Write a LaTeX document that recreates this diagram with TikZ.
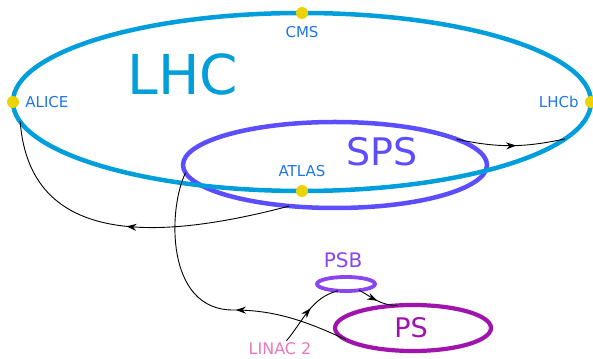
\documentclass[tikz,border=0pt]{standalone}
\usepackage{fontspec}
\setmainfont{DejaVu Sans}
\usetikzlibrary{shapes.geometric,arrows.meta,decorations.markings,positioning}

\definecolor{lhccol}{RGB}{0,158,218}
\definecolor{labcol}{RGB}{30,118,228}
\definecolor{spscol}{RGB}{92,78,255}
\definecolor{psbcol}{RGB}{138,68,240}
\definecolor{pscol}{RGB}{160,20,172}
\definecolor{linaccol}{RGB}{232,120,192}
\definecolor{dotcol}{RGB}{236,210,0}

\begin{document}
\begin{tikzpicture}[x=1pt,y=1pt,
    ring/.style={draw, ellipse, inner sep=0pt, outer sep=0pt},
    dot/.style={fill=dotcol, circle, inner sep=0pt, minimum size=12pt},
    lab/.style={text=labcol, inner sep=0pt, font=\fontsize{15}{15}\selectfont},
    beam/.style={black, line width=.9pt},
    midarrow/.style={postaction={decorate, decoration={markings,
        mark=at position #1 with {\arrow{Stealth[length=10pt,width=7pt]}}}}}]
  \useasboundingbox (0,0) rectangle (593,358);
  % rings
  \node (sps) at (335,193) [ring, draw=spscol, line width=4.5pt, minimum width=304pt, minimum height=86pt] {};
  \node (lhc) at (302,256) [ring, draw=lhccol, line width=4.5pt, minimum width=578pt, minimum height=178pt] {};
  \node (psb) at (346,74) [ring, draw=psbcol, line width=3.8pt, minimum width=58pt, minimum height=14pt] {};
  \node (ps) at (413,30) [ring, draw=pscol, line width=4.2pt, minimum width=156pt, minimum height=46pt] {};
  % names
  \node (lhcname) at (183,284) [text=lhccol, font=\fontsize{55}{55}\selectfont] {LHC};
  \node (spsname) at (382,206) [text=spscol, font=\fontsize{38}{38}\selectfont] {SPS};
  \node (psbname) at (343,98) [text=psbcol, font=\fontsize{20}{20}\selectfont] {PSB};
  \node (psname) at (411,30) [text=pscol, font=\fontsize{27}{27}\selectfont] {PS};
  \node (linac) at (280,9) [text=linaccol, inner sep=2pt, font=\fontsize{16}{16}\selectfont] {LINAC 2};
  % transfer lines
  \draw[beam, midarrow=0.55] (sps.12) to[out=-12, in=192] (lhc.352);
  \draw[beam, midarrow=0.5] (sps.222) .. controls (160,118) and (30,110) .. (lhc.184);
  \draw[beam, midarrow=0.4] (ps.190) .. controls (300,40) and (270,48) .. (233,48)
      .. controls (165,48) and (168,150) .. (sps.183);
  \draw[beam, midarrow=0.55] (linac.52) to[out=50, in=195] (psb.220);
  \draw[beam, midarrow=0.5] (psb.335) to[out=-30, in=180] (ps.125);
  % experiments
  \node (alice) at (lhc.west) [dot] {};
  \node (cms) at (lhc.north) [dot] {};
  \node (lhcb) at (lhc.east) [dot] {};
  \node (atlas) at (lhc.south) [dot] {};
  \node [lab, right=6pt of alice] {ALICE};
  \node [lab, below=7pt of cms] {CMS};
  \node [lab, left=6pt of lhcb] {LHCb};
  \node [lab, above=8pt of atlas] {ATLAS};
\end{tikzpicture}
\end{document}
